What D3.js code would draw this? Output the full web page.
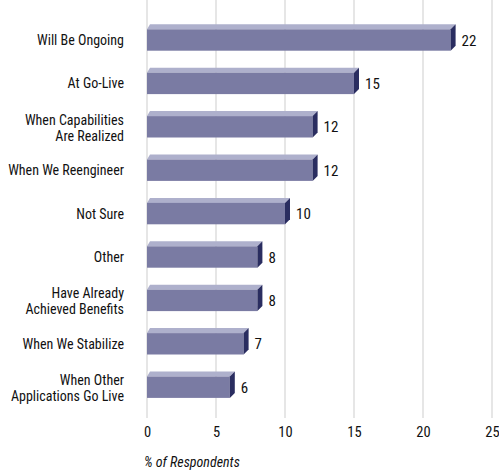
<!DOCTYPE html>
<html><head><meta charset="utf-8">
<script src="https://cdn.jsdelivr.net/npm/d3@7"></script>
<style>
body{margin:0;background:#fff;}
text{font-family:"Liberation Sans Narrow","Roboto Condensed","Arial Narrow",sans-serif;fill:#111;}
</style></head>
<body><svg id="c" width="499" height="473"></svg>
<script>
const categories = [
  ["Will Be Ongoing"],
  ["At Go-Live"],
  ["When Capabilities","Are Realized"],
  ["When We Reengineer"],
  ["Not Sure"],
  ["Other"],
  ["Have Already","Achieved Benefits"],
  ["When We Stabilize"],
  ["When Other","Applications Go Live"]
];
const values = [22, 15, 12, 12, 10, 8, 8, 7, 6];
const tickValues = [0, 5, 10, 15, 20, 25];
const axisTitle = "% of Respondents";

const svg = d3.select("#c");
const x = d3.scaleLinear().domain([0, 25]).range([147, 492]);
const step = 43.4;
const y = d3.scaleBand().domain(d3.range(categories.length))
  .range([24.3 - 8.5, 24.3 - 8.5 + step * 9]).paddingInner(17 / step).paddingOuter(8.5 / step);
const depthX = 5, depthY = 5;

// gridlines
svg.append("g").selectAll("line").data(tickValues).join("line")
  .attr("x1", d => x(d)).attr("x2", d => x(d))
  .attr("y1", 0).attr("y2", 418)
  .attr("stroke", "#d6d6d6").attr("stroke-width", 1.2);

// x axis labels
const xAxis = d3.axisBottom(x).tickValues(tickValues).tickSize(0).tickPadding(0);
const gx = svg.append("g").attr("transform", "translate(0,427)").call(xAxis);
gx.select(".domain").remove();
gx.selectAll("text").attr("font-size", 14.5).attr("fill", "#111")
  .style("font-family", '"Liberation Sans Narrow","Roboto Condensed",sans-serif');

svg.append("text").attr("x", 144).attr("y", 467).attr("font-size", 14)
  .attr("font-style", "italic").text(axisTitle);

const bars = svg.append("g").selectAll("g").data(values).join("g");
bars.each(function(v, i) {
  const g = d3.select(this);
  const y0 = y(i) + depthY, h = y.bandwidth() - depthY;
  const x0 = x(0), x1 = x(v);
  // top face
  g.append("path").attr("d", `M${x0},${y0} L${x0+3},${y0-depthY} L${x1+depthX},${y0-depthY} L${x1},${y0} Z`)
    .attr("fill", "#aeb0cc");
  // front
  g.append("rect").attr("x", x0).attr("y", y0).attr("width", x1 - x0).attr("height", h).attr("fill", "#7a7ba3");
  // side
  g.append("path").attr("d", `M${x1},${y0} L${x1+depthX},${y0-depthY} L${x1+depthX},${y0+h-depthY} L${x1},${y0+h} Z`)
    .attr("fill", "#2a2d60");
  // value label
  g.append("text").attr("x", x1 + depthX + 6).attr("y", y0 + h/2 + 5.5).attr("font-size", 15).text(v);
});

// category labels
const labels = svg.append("g").selectAll("text").data(categories).join("text")
  .attr("text-anchor", "end").attr("font-size", 14)
  .attr("x", 124)
  .attr("y", (d, i) => y(i) + depthY + (y.bandwidth() - depthY)/2 + 5 + (d.length - 1) * -7);
labels.selectAll("tspan").data(d => d).join("tspan")
  .attr("x", 124).attr("dy", (d, j) => j ? 16 : 0).text(d => d);
</script></body></html>
